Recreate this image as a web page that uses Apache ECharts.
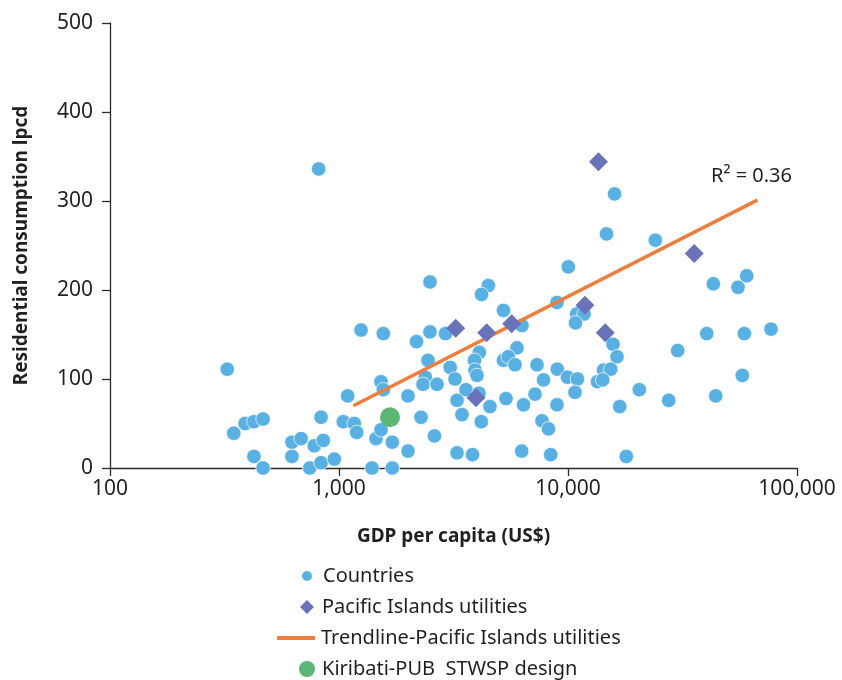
<!DOCTYPE html>
<html>
<head>
<meta charset="utf-8">
<script src="https://cdn.jsdelivr.net/npm/echarts@6/dist/echarts.min.js"></script>
<style>html,body{margin:0;padding:0;background:#fff}#c{width:842px;height:680px}</style>
</head>
<body>
<div id="c"></div>
<script>
// ---- data (GDP per capita US$, residential consumption lpcd) ----
const countriesGdp = [325,347,389,425,466,425,466,815,623,683,623,780,854,835,745,835,954,1091,1044,1166,1195,1248,1561,1394,1451,1526,1709,1709,1526,1561,2001,2001,2180,2281,2497,2497,2918,2447,3059,3211,2382,2327,2679,3586,3276,3444,2612,3276,3828,4100,3906,3926,4005,4087,4563,4182,4487,4191,5227,6295,5987,5227,5486,5869,7321,8982,7816,9950,11000,10730,7176,5361,6392,8954,7700,8219,6278,8404,10030,8954,10910,11750,10780,15970,14730,24050,15720,16370,14290,15370,13450,14180,16820,20480,27530,17970,30130,40350,58890,77000,43110,60310,55260,57690,44160];
const countriesLpcd = [111,39,50,52,55,13,0,336,29,33,13,25,31,57,0,6,10,81,52,50,40,155,151,0,33,43,29,0,97,88,81,19,142,57,209,153,151,121,113,100,102,94,94,88,76,60,36,17,15,130,121,110,104,84,69,52,205,195,177,160,135,121,125,116,116,111,99,102,100,85,83,78,71,71,53,44,19,15,226,186,173,173,163,308,263,256,139,125,110,111,97,99,69,88,76,13,132,151,151,156,207,216,203,104,81];
const pacificGdp = [3233,4416,5677,11860,14540,3966,13590,35570];
const pacificLpcd = [157,152,162,183,152,79,344,241];
const trendGdp = [1155,67070];
const trendLpcd = [70,301];
const kiribatiGdp = [1670];
const kiribatiLpcd = [57];
const yTicks = [0,100,200,300,400,500];
const xTicks = [100,1000,10000,100000];
const names = ['Countries','Pacific Islands utilities','Trendline-Pacific Islands utilities','Kiribati-PUB  STWSP design'];
const r2Text = 'R² = 0.36';

const zip = (xs, ys) => xs.map((x, i) => [x, ys[i]]);
const FONT = 'Noto Sans';
const TXT = '#231f20';
const AX = '#2b2b2b';

const chart = echarts.init(document.getElementById('c'), null, {renderer: 'canvas'});

const legendBase = {orient: 'vertical', padding: 0, itemGap: 0, selectedMode: false};
const legText = (padLeft) => ({fontFamily: FONT, fontSize: 20, color: TXT, padding: [0, 0, 0, padLeft]});

chart.setOption({
  animation: false,
  grid: {left: 110, right: 45, top: 23, bottom: 212},
  xAxis: {
    type: 'log', logBase: 10, min: xTicks[0], max: xTicks[xTicks.length - 1], splitNumber: 3,
    name: 'GDP per capita (US$)', nameLocation: 'middle', nameGap: 59,
    nameTextStyle: {fontFamily: FONT, fontSize: 19, fontWeight: 'bold', color: TXT},
    axisLine: {lineStyle: {color: AX, width: 1.3}},
    axisTick: {show: true, length: 8, lineStyle: {color: AX, width: 1.3}},
    minorTick: {show: false},
    splitLine: {show: false},
    axisLabel: {fontFamily: FONT, fontSize: 21, color: TXT, margin: 11,
      formatter: v => Math.round(v).toLocaleString('en-US')}
  },
  yAxis: {
    type: 'value', min: yTicks[0], max: yTicks[yTicks.length - 1], interval: 100,
    name: 'Residential consumption lpcd', nameLocation: 'middle', nameGap: 79,
    nameTextStyle: {fontFamily: FONT, fontSize: 19, fontWeight: 'bold', color: TXT},
    axisLine: {show: true, lineStyle: {color: AX, width: 1.3}},
    axisTick: {show: true, length: 8, lineStyle: {color: AX, width: 1.3}},
    splitLine: {show: false},
    axisLabel: {fontFamily: FONT, fontSize: 21, color: TXT, margin: 17}
  },
  legend: [
    Object.assign({}, legendBase, {data: [{name: names[0], icon: 'circle'}], left: 300, top: 566,
      itemWidth: 12, itemHeight: 12, textStyle: legText(5)}),
    Object.assign({}, legendBase, {data: [{name: names[1], icon: 'diamond'}], left: 300, top: 597,
      itemWidth: 14, itemHeight: 14, textStyle: legText(3)}),
    Object.assign({}, legendBase, {data: [{name: names[2], icon: 'rect'}], left: 277, top: 628,
      itemWidth: 38, itemHeight: 4, textStyle: legText(1)}),
    Object.assign({}, legendBase, {data: [{name: names[3], icon: 'circle'}], left: 299, top: 659,
      itemWidth: 16, itemHeight: 16, textStyle: legText(2)})
  ],
  graphic: [{
    type: 'text', x: 711, y: 176,
    style: {text: r2Text, fontFamily: FONT, fontSize: 20, fill: TXT, verticalAlign: 'middle'}
  }],
  series: [
    {name: names[0], type: 'scatter', symbol: 'circle', symbolSize: 14.5, z: 2,
     itemStyle: {color: '#59b1e3', borderColor: '#ffffff', borderWidth: 0.7, opacity: 1},
     data: zip(countriesGdp, countriesLpcd)},
    {name: names[2], type: 'line', symbol: 'none', showSymbol: false, z: 3,
     lineStyle: {color: '#ef7d3b', width: 3.5}, itemStyle: {color: '#ef7d3b'},
     data: zip(trendGdp, trendLpcd)},
    {name: names[1], type: 'scatter', symbol: 'diamond', symbolSize: 19, z: 4,
     itemStyle: {color: '#6a73ba', opacity: 1},
     data: zip(pacificGdp, pacificLpcd)},
    {name: names[3], type: 'scatter', symbol: 'circle', symbolSize: 20, z: 5,
     itemStyle: {color: '#5cb676', opacity: 1},
     data: zip(kiribatiGdp, kiribatiLpcd)}
  ]
});
</script>
</body>
</html>
